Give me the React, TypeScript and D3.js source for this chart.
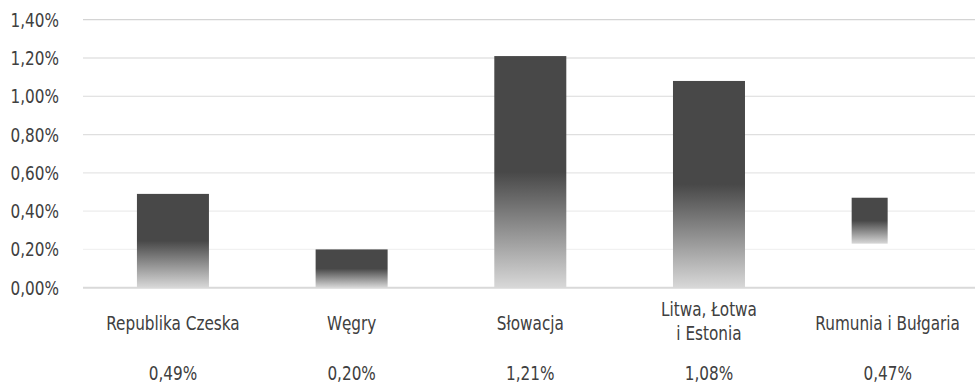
import React from "react";
import * as d3 from "d3";

const categories: string[][] = [
  ["Republika Czeska"],
  ["Węgry"],
  ["Słowacja"],
  ["Litwa, Łotwa", "i Estonia"],
  ["Rumunia i Bułgaria"],
];
const values: number[] = [0.49, 0.2, 1.21, 1.08, 0.47];
// visible lower end of each bar (the last bar is drawn floating in the source)
const barBase: number[] = [0, 0, 0, 0, 0.23];
// fraction of band width drawn
const barWidthFrac: number[] = [1, 1, 1, 1, 0.5];
const valueLabels: string[] = ["0,49%", "0,20%", "1,21%", "1,08%", "0,47%"];
const yTicks: number[] = [0, 0.2, 0.4, 0.6, 0.8, 1.0, 1.2, 1.4];
const yTickLabels: string[] = ["0,00%", "0,20%", "0,40%", "0,60%", "0,80%", "1,00%", "1,20%", "1,40%"];
const gridColors: string[] = ["#d9d9d9", "#f1f1f1", "#ececec", "#e6e6e6", "#dfdfdf", "#dadada", "#d6d6d6", "#d4d4d4"];

const W = 975;
const H = 384;
const FONT = "'DejaVu Sans Condensed', 'Liberation Sans Narrow', sans-serif";
const FS = 19.5;
const SX = 0.87;

function Label(props: { x: number; y: number; anchor: "start" | "middle" | "end"; text: string }) {
  return (
    <text
      transform={`translate(${props.x},${props.y}) scale(${SX},1)`}
      textAnchor={props.anchor}
      fontFamily={FONT}
      fontSize={FS}
      fill="#404040"
    >
      {props.text}
    </text>
  );
}

export default function App() {
  const y = d3.scaleLinear().domain([0, 1.4]).range([287.7, 19.7]);
  const ids = categories.map((_, i) => String(i));
  const x = d3
    .scaleBand<string>()
    .domain(ids)
    .range([83.6, 977])
    .paddingInner(0.597)
    .paddingOuter(0.2985);
  const bw = x.bandwidth();

  return (
    <div style={{ position: "absolute", left: 0, top: 0 }}>
      <svg width={W} height={H} style={{ display: "block", background: "#fff" }}>
        <defs>
          <linearGradient id="barGrad" x1="0" y1="0" x2="0" y2="1">
            <stop offset="0" stopColor="#484848" />
            <stop offset="0.5" stopColor="#484848" />
            <stop offset="1" stopColor="#d8d8d8" />
          </linearGradient>
        </defs>
        {yTicks.map((t, i) => (
          <line
            key={"g" + i}
            x1={83}
            x2={W}
            y1={y(t)}
            y2={y(t)}
            stroke={gridColors[i]}
            strokeWidth={t === 0 ? 2 : 1.2}
          />
        ))}
        {yTicks.map((t, i) => (
          <Label key={"yl" + i} x={59} y={y(t) + 7} anchor="end" text={yTickLabels[i]} />
        ))}
        {values.map((v, i) => (
          <rect
            key={"b" + i}
            x={x(ids[i])!}
            y={y(v)}
            width={bw * barWidthFrac[i]}
            height={y(barBase[i]) - y(v)}
            fill="url(#barGrad)"
          />
        ))}
        {categories.map((lines, i) => {
          const cx = x(ids[i])! + bw / 2;
          const startY = lines.length === 1 ? 330 : 316;
          return (
            <g key={"c" + i}>
              {lines.map((l, j) => (
                <Label key={j} x={cx} y={startY + j * 24} anchor="middle" text={l} />
              ))}
            </g>
          );
        })}
        {valueLabels.map((l, i) => (
          <Label key={"v" + i} x={x(ids[i])! + bw / 2} y={380} anchor="middle" text={l} />
        ))}
      </svg>
    </div>
  );
}
